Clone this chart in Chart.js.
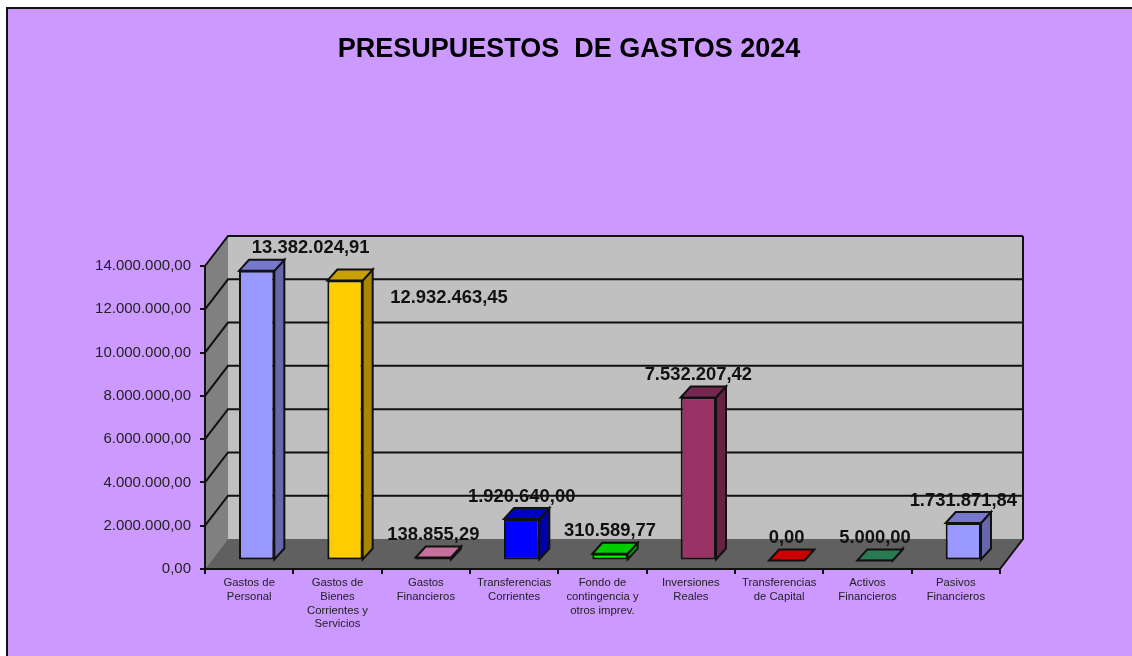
<!DOCTYPE html>
<html>
<head>
<meta charset="utf-8">
<title>Presupuestos de gastos 2024</title>
<script src="https://cdn.jsdelivr.net/npm/chart.js@4/dist/chart.umd.min.js"></script>
<style>
html, body { margin: 0; padding: 0; background: #fff; overflow: hidden; }
#frame { position: absolute; left: 6px; top: 7px; right: 0; bottom: 0; background: #cc99ff; border-left: 2px solid #111; border-top: 2px solid #111; }
#wrap { position: absolute; left: 0; top: 0; width: 1132px; height: 656px; }
#mychart { filter: blur(0.4px); }
</style>
</head>
<body>
<div id="frame"></div>
<div id="wrap"><canvas id="mychart" width="1132" height="656"></canvas></div>
<script>
var categories = [
    ['Gastos de', 'Personal'],
    ['Gastos de', 'Bienes', 'Corrientes y', 'Servicios'],
    ['Gastos', 'Financieros'],
    ['Transferencias', 'Corrientes'],
    ['Fondo de', 'contingencia y', 'otros imprev.'],
    ['Inversiones', 'Reales'],
    ['Transferencias', 'de Capital'],
    ['Activos', 'Financieros'],
    ['Pasivos', 'Financieros']
];
var gastos = [13382024.91, 12932463.45, 138855.29, 1920640.00, 310589.77, 7532207.42, 0, 5000, 1731871.84];

var frontColors = ['#9999ff', '#ffcc00', '#ff8cc0', '#0000ff', '#00ff00', '#993366', '#ff0000', '#339966', '#9999ff'];
var topColors = ['#7777cc', '#c8a000', '#c8709c', '#0000cc', '#00cc00', '#772850', '#cc0000', '#287a52', '#7777cc'];
var sideColors = ['#6666aa', '#a88800', '#a85e84', '#0000aa', '#00aa00', '#662244', '#aa0000', '#226644', '#6666aa'];

// profundidad del grafico 3D
var wallDx = 23, wallDy = -30;
var barDx = 7.5, barDy = -8.5;
var depthDx = 10, depthDy = -11;

// las dos primeras etiquetas estan movidas a mano en el original
var labelDx = [54, 104, 0, 0, 0, 0, 0, 0, 0];
var labelDy = [0, 40, 0, 0, 0, 0, 0, 0, 0];

function money(v) {
    return v.toLocaleString('de-DE', { minimumFractionDigits: 2, maximumFractionDigits: 2 });
}

function poly(ctx, pts, fill, stroke, width) {
    ctx.beginPath();
    ctx.moveTo(pts[0][0], pts[0][1]);
    for (var i = 1; i < pts.length; i++) ctx.lineTo(pts[i][0], pts[i][1]);
    ctx.closePath();
    if (fill) { ctx.fillStyle = fill; ctx.fill(); }
    if (stroke) { ctx.strokeStyle = stroke; ctx.lineWidth = width; ctx.stroke(); }
}

var walls3d = {
    id: 'walls3d',
    afterLayout: function (chart) {
        // el titulo va centrado en la pagina, no en el area sin el margen derecho
        chart.titleBlock.left = 0;
        chart.titleBlock.right = 1138;
    },
    beforeDraw: function (chart) {
        var ctx = chart.ctx, a = chart.chartArea, y = chart.scales.y;
        var L = a.left, R = a.right, T = y.getPixelForValue(14000000), B = y.getPixelForValue(0);
        ctx.save();
        poly(ctx, [[L + wallDx, T + wallDy], [R + wallDx, T + wallDy], [R + wallDx, B + wallDy], [L + wallDx, B + wallDy]], '#c0c0c0');
        poly(ctx, [[L, T], [L + wallDx, T + wallDy], [L + wallDx, B + wallDy], [L, B]], '#808080');
        poly(ctx, [[L, B], [L + wallDx, B + wallDy], [R + wallDx, B + wallDy], [R, B]], '#606060');

        ctx.strokeStyle = '#111';
        ctx.lineWidth = 2;
        y.ticks.forEach(function (t) {
            if (t.value === 0) return;
            var py = y.getPixelForValue(t.value);
            ctx.beginPath();
            ctx.moveTo(L, py);
            ctx.lineTo(L + wallDx, py + wallDy);
            ctx.lineTo(R + wallDx, py + wallDy);
            ctx.stroke();
        });
        ctx.beginPath();
        ctx.moveTo(R + wallDx, T + wallDy);
        ctx.lineTo(R + wallDx, B + wallDy);
        ctx.lineTo(R, B);
        ctx.stroke();
        ctx.restore();
    },
    beforeDatasetDraw: function (chart, args) {
        var ctx = chart.ctx;
        ctx.save();
        ctx.translate(barDx, barDy);
        args.meta.data.forEach(function (bar, i) {
            var l = bar.x - bar.width / 2, r = bar.x + bar.width / 2;
            poly(ctx, [[r, bar.y], [r + depthDx, bar.y + depthDy], [r + depthDx, bar.base + depthDy], [r, bar.base]], sideColors[i], '#111', 2);
            poly(ctx, [[l, bar.y], [l + depthDx, bar.y + depthDy], [r + depthDx, bar.y + depthDy], [r, bar.y]], topColors[i], '#111', 2);
        });
    },
    afterDatasetDraw: function (chart) {
        chart.ctx.restore();
    },
    afterDatasetsDraw: function (chart) {
        var ctx = chart.ctx, y = chart.scales.y;
        ctx.save();
        ctx.font = 'bold 18.4px "Liberation Sans"';
        ctx.fillStyle = '#111';
        ctx.textAlign = 'center';
        ctx.textBaseline = 'middle';
        chart.getDatasetMeta(0).data.forEach(function (bar, i) {
            ctx.fillText(money(gastos[i]), bar.x + barDx + labelDx[i], y.getPixelForValue(gastos[i]) - 31 + labelDy[i]);
        });
        ctx.restore();
    }
};

var ctx = document.getElementById('mychart').getContext('2d');
var mychart = new Chart(ctx, {
    type: 'bar',
    data: {
        labels: categories,
        datasets: [{
            label: 'Presupuestos de gastos',
            data: gastos,
            backgroundColor: frontColors,
            borderColor: '#111',
            borderWidth: 2,
            borderSkipped: false,
            categoryPercentage: 0.4,
            barPercentage: 1,
            clip: false
        }]
    },
    plugins: [walls3d],
    options: {
        responsive: false,
        animation: false,
        layout: { padding: { top: 0, right: 132, bottom: 0, left: 0 } },
        plugins: {
            legend: { display: false },
            tooltip: { enabled: false },
            title: {
                display: true,
                text: 'PRESUPUESTOS  DE GASTOS 2024',
                color: '#000',
                font: { family: '"Liberation Sans"', size: 27, weight: 'bold', lineHeight: 1.2 },
                padding: { top: 33, bottom: 200.6 }
            }
        },
        scales: {
            x: {
                grid: { drawOnChartArea: false, color: '#111', lineWidth: 2, tickLength: 5, offset: true },
                border: { color: '#111', width: 2 },
                ticks: {
                    color: '#222',
                    maxRotation: 0,
                    autoSkip: false,
                    padding: 2,
                    font: { family: '"Liberation Sans"', size: 11.3, lineHeight: 1.22 }
                },
                afterFit: function (scale) { scale.height = 87; }
            },
            y: {
                min: 0,
                max: 14000000,
                grid: { drawOnChartArea: false, color: '#111', lineWidth: 2, tickLength: 5 },
                border: { color: '#111', width: 2 },
                ticks: {
                    stepSize: 2000000,
                    color: '#222',
                    padding: 9,
                    font: { family: '"Liberation Sans"', size: 15 },
                    callback: function (v) { return money(v); }
                },
                afterFit: function (scale) { scale.width = 205; }
            }
        }
    }
});
</script>
</body>
</html>
